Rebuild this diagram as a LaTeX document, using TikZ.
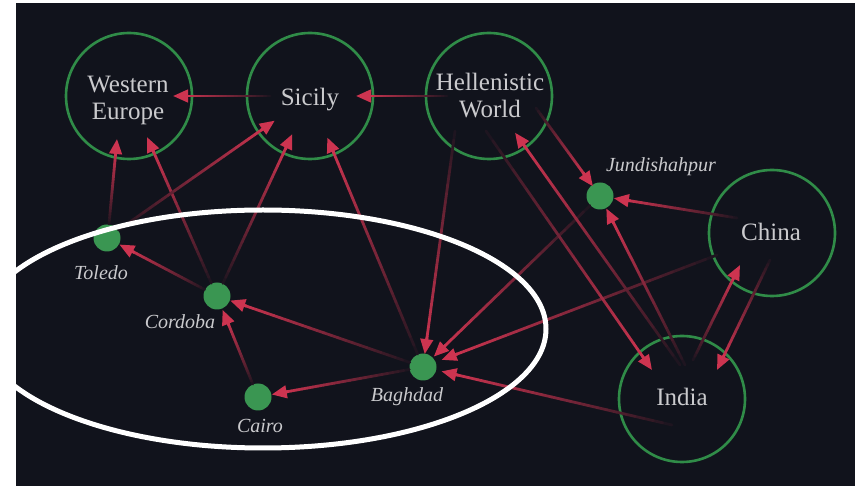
\documentclass[tikz,border=0pt]{standalone}
\usepackage{fontspec}
\setmainfont{Liberation Serif}
\usetikzlibrary{calc,arrows.meta}

\definecolor{bgc}{RGB}{17,19,28}
\definecolor{arrowred}{RGB}{205,52,80}
\definecolor{ringgreen}{RGB}{48,140,72}
\definecolor{dotgreen}{RGB}{58,150,82}
\definecolor{labelgrey}{RGB}{202,202,205}

\tikzset{
  region/.style={circle, draw=ringgreen, line width=2.6pt, minimum size=126pt, inner sep=0pt},
  city/.style={circle, fill=dotgreen, minimum size=27pt, inner sep=0pt},
  regionlabel/.style={text=labelgrey, font=\fontsize{25}{27}\selectfont, align=center, inner sep=0pt},
  citylabel/.style={text=labelgrey, font=\fontsize{20}{24}\selectfont\itshape, inner sep=0pt, anchor=base},
  flowline/.style={line width=2.8pt, line cap=round},
}

% A flow of knowledge: a stroke that brightens from the background colour
% at its source to full red at the arrow tip.
\newcommand\flowedge[2]{%
  \path #1 coordinate (fs);
  \path #2 coordinate (ft);
  \coordinate (fe) at ($(ft)!9pt!(fs)$);
  \foreach \k in {0,...,23}{%
    \pgfmathsetmacro\flowta{\k/24}%
    \pgfmathsetmacro\flowtb{(\k+1)/24}%
    \pgfmathtruncatemacro\flowmix{4+96*((\k+0.5)/24)^0.85}%
    \draw[flowline, draw=arrowred!\flowmix!bgc] ($(fs)!\flowta!(fe)$) -- ($(fs)!\flowtb!(fe)$);
  }%
  \draw[line width=2.8pt, draw=arrowred, fill=arrowred, -{Triangle[length=15pt,width=12.5pt]}] ($(ft)!17pt!(fs)$) -- (ft);
}

\begin{document}
\begin{tikzpicture}[x=1pt, y=-1pt]
  % page and dark panel
  \fill[white] (0,0) rectangle (855,486);
  \fill[bgc] (16,3) rectangle (855,486);
  \useasboundingbox (0,0) rectangle (855,486);

  % regions
  \node[region] (we)  at (129,96)  {};
  \node[region] (sic) at (310,96)  {};
  \node[region] (hw)  at (489,96)  {};
  \node[region] (chi) at (772,233) {};
  \node[region] (ind) at (682,399) {};

  % cities
  \node[city] (tol) at (107,238) {};
  \node[city] (cor) at (217,296) {};
  \node[city] (cai) at (258,397) {};
  \node[city] (bag) at (423,367) {};
  \node[city] (jun) at (600,196) {};

  % flows into Western Europe
  \flowedge{($(sic)!40pt!(we)$)}{($(we)!44pt!(sic)$)}
  \flowedge{($(tol)+(2,-14)$)}{($(we)+(-12,43)$)}
  \flowedge{($(cor)!14pt!(we)$)}{($(we)!45pt!(cor)$)}
  % flows into Sicily
  \flowedge{($(hw)!42pt!(sic)$)}{($(sic)!46pt!(hw)$)}
  \flowedge{($(tol)!14pt!(sic)$)}{($(sic)!43pt!(tol)$)}
  \flowedge{($(cor)!14pt!(sic)$)}{($(sic)!42pt!(cor)$)}
  \flowedge{($(bag)!14pt!(sic)$)}{($(sic)!45pt!(bag)$)}
  % flows among the Islamic cities
  \flowedge{($(cor)!14pt!(tol)$)}{($(tol)!14pt!(cor)$)}
  \flowedge{($(bag)!14pt!(cor)$)}{($(cor)!14pt!(bag)$)}
  \flowedge{($(cai)!14pt!(cor)$)}{($(cor)!15pt!(cai)$)}
  \flowedge{($(bag)!14pt!(cai)$)}{($(cai)!14pt!(bag)$)}
  % flows into Baghdad
  \flowedge{($(hw)+(-34,35)$)}{($(bag)!13pt!(fs)$)}
  \flowedge{($(jun)!14pt!(bag)$)}{($(bag)!15pt!(jun)$)}
  \flowedge{($(chi)+(-55,22)$)}{($(bag)!20pt!(fs)$)}
  \flowedge{($(ind)+(-10,26)$)}{($(bag)!19pt!(fs)$)}
  % flows into Jundishahpur
  \flowedge{($(hw)+(47,12)$)}{($(jun)!12pt!(fs)$)}
  \flowedge{($(chi)+(-35,-15)$)}{($(jun)!14pt!(fs)$)}
  \flowedge{($(ind)+(3,-34)$)}{($(jun)!14pt!(fs)$)}
  % exchanges between Hellenistic World, India and China
  \flowedge{($(ind)+(-2,-34)$)}{($(hw)!45pt!(fs)$)}
  \flowedge{($(hw)+(-3,35)$)}{($(ind)+(-30,-29)$)}
  \flowedge{($(ind)+(11,-39)$)}{($(chi)+(-32,32)$)}
  \flowedge{($(chi)+(-2,27)$)}{($(ind)+(35,-29)$)}

  % region names
  \node[regionlabel] (weL) at (128,100) {Western\\Europe};
  \node[regionlabel, anchor=base] (sicL) at (310,106) {Sicily};
  \node[regionlabel] (hwL) at (490,96) {Hellenistic\\World};
  \node[regionlabel, anchor=base] (chiL) at (771,241) {China};
  \node[regionlabel, anchor=base] (indL) at (682,406) {India};

  % city names
  \node[citylabel] (tolL) at (101,280) {Toledo};
  \node[citylabel] (corL) at (180,329) {Cordoba};
  \node[citylabel] (caiL) at (260,433) {Cairo};
  \node[citylabel] (bagL) at (407,402) {Baghdad};
  \node[citylabel] (junL) at (661,172) {Jundishahpur};

  % highlight round the Islamic centres
  \draw[white, line width=5pt] (263,329) ellipse [x radius=283, y radius=119];
\end{tikzpicture}
\end{document}
